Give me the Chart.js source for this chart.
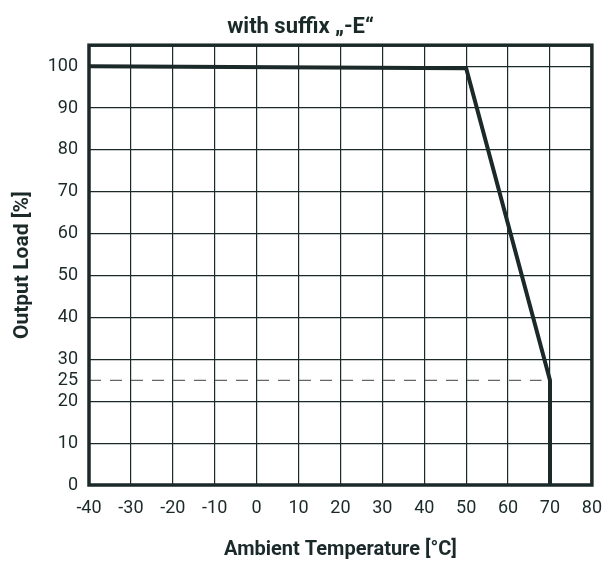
<!DOCTYPE html>
<html>
<head>
<meta charset="utf-8">
<script src="https://cdn.jsdelivr.net/npm/chart.js@4"></script>
<style>
html,body{margin:0;padding:0;background:#fff;}
#wrap{width:615px;height:561px;}
</style>
</head>
<body>
<div id="wrap"><canvas id="c" width="615" height="561"></canvas></div>
<script>
const curveX = [-40, 50, 70, 70];
const curveY = [100, 99.5, 25, 0];
const refX = [-40, 68];
const refY = [25, 25];
const xTicks = [-40, -30, -20, -10, 0, 10, 20, 30, 40, 50, 60, 70, 80];
const yTicks = [0, 10, 20, 25, 30, 40, 50, 60, 70, 80, 90, 100];
const titleText = 'with suffix \u201E-E\u201C';
const xTitle = 'Ambient Temperature [\u00B0C]';
const yTitle = 'Output Load [%]';

const INK = '#1b2929';
const FONT = "Roboto, 'Liberation Sans', sans-serif";

const toPts = (xs, ys) => xs.map((x, i) => ({x: x, y: ys[i]}));

const frame = {
  id: 'frame',
  afterDraw(chart) {
    const {ctx, chartArea: a} = chart;
    ctx.save();
    ctx.strokeStyle = INK;
    ctx.lineWidth = 3.5;
    ctx.strokeRect(a.left, a.top, a.right - a.left, a.bottom - a.top);
    ctx.restore();
  }
};

new Chart(document.getElementById('c'), {
  type: 'scatter',
  data: {
    datasets: [
      {
        data: toPts(refX, refY),
        showLine: true,
        borderColor: '#666',
        borderWidth: 1.2,
        borderDash: [12, 9],
        pointRadius: 0,
        order: 2
      },
      {
        data: toPts(curveX, curveY),
        showLine: true,
        borderColor: INK,
        borderWidth: 4,
        pointRadius: 0,
        borderJoinStyle: 'miter',
        order: 1
      }
    ]
  },
  options: {
    responsive: false,
    animation: false,
    devicePixelRatio: 1,
    layout: {padding: {left: 0, right: 14, top: 0, bottom: 0}},
    plugins: {
      legend: {display: false},
      tooltip: {enabled: false},
      title: {
        display: true,
        text: titleText,
        color: INK,
        font: {family: FONT, size: 22, weight: 'bold', lineHeight: 1.1},
        padding: {top: 15, bottom: 6}
      }
    },
    scales: {
      x: {
        type: 'linear',
        min: -40,
        max: 80,
        afterBuildTicks: s => { s.ticks = xTicks.map(v => ({value: v})); },
        afterFit: s => { s.height = 76; },
        ticks: {color: INK, font: {family: FONT, size: 18}, padding: 13, maxRotation: 0},
        grid: {color: INK, lineWidth: 1.2, drawTicks: false},
        border: {display: false},
        title: {
          display: true,
          text: xTitle,
          color: INK,
          font: {family: FONT, size: 20, weight: 'bold', lineHeight: 1},
          padding: {top: 0, bottom: 1}
        }
      },
      y: {
        type: 'linear',
        min: 0,
        max: 105,
        afterBuildTicks: s => { s.ticks = yTicks.map(v => ({value: v})); },
        afterFit: s => { s.width = 89; },
        ticks: {color: INK, font: {family: FONT, size: 18}, padding: 11},
        grid: {
          color: ctx => (ctx.tick && ctx.tick.value === 25) ? 'rgba(0,0,0,0)' : INK,
          lineWidth: 1.2,
          drawTicks: false
        },
        border: {display: false},
        title: {
          display: true,
          text: yTitle,
          color: INK,
          font: {family: FONT, size: 21, weight: 'bold', lineHeight: 1},
          padding: {top: 12, bottom: 0}
        }
      }
    }
  },
  plugins: [frame]
});
</script>
</body>
</html>
